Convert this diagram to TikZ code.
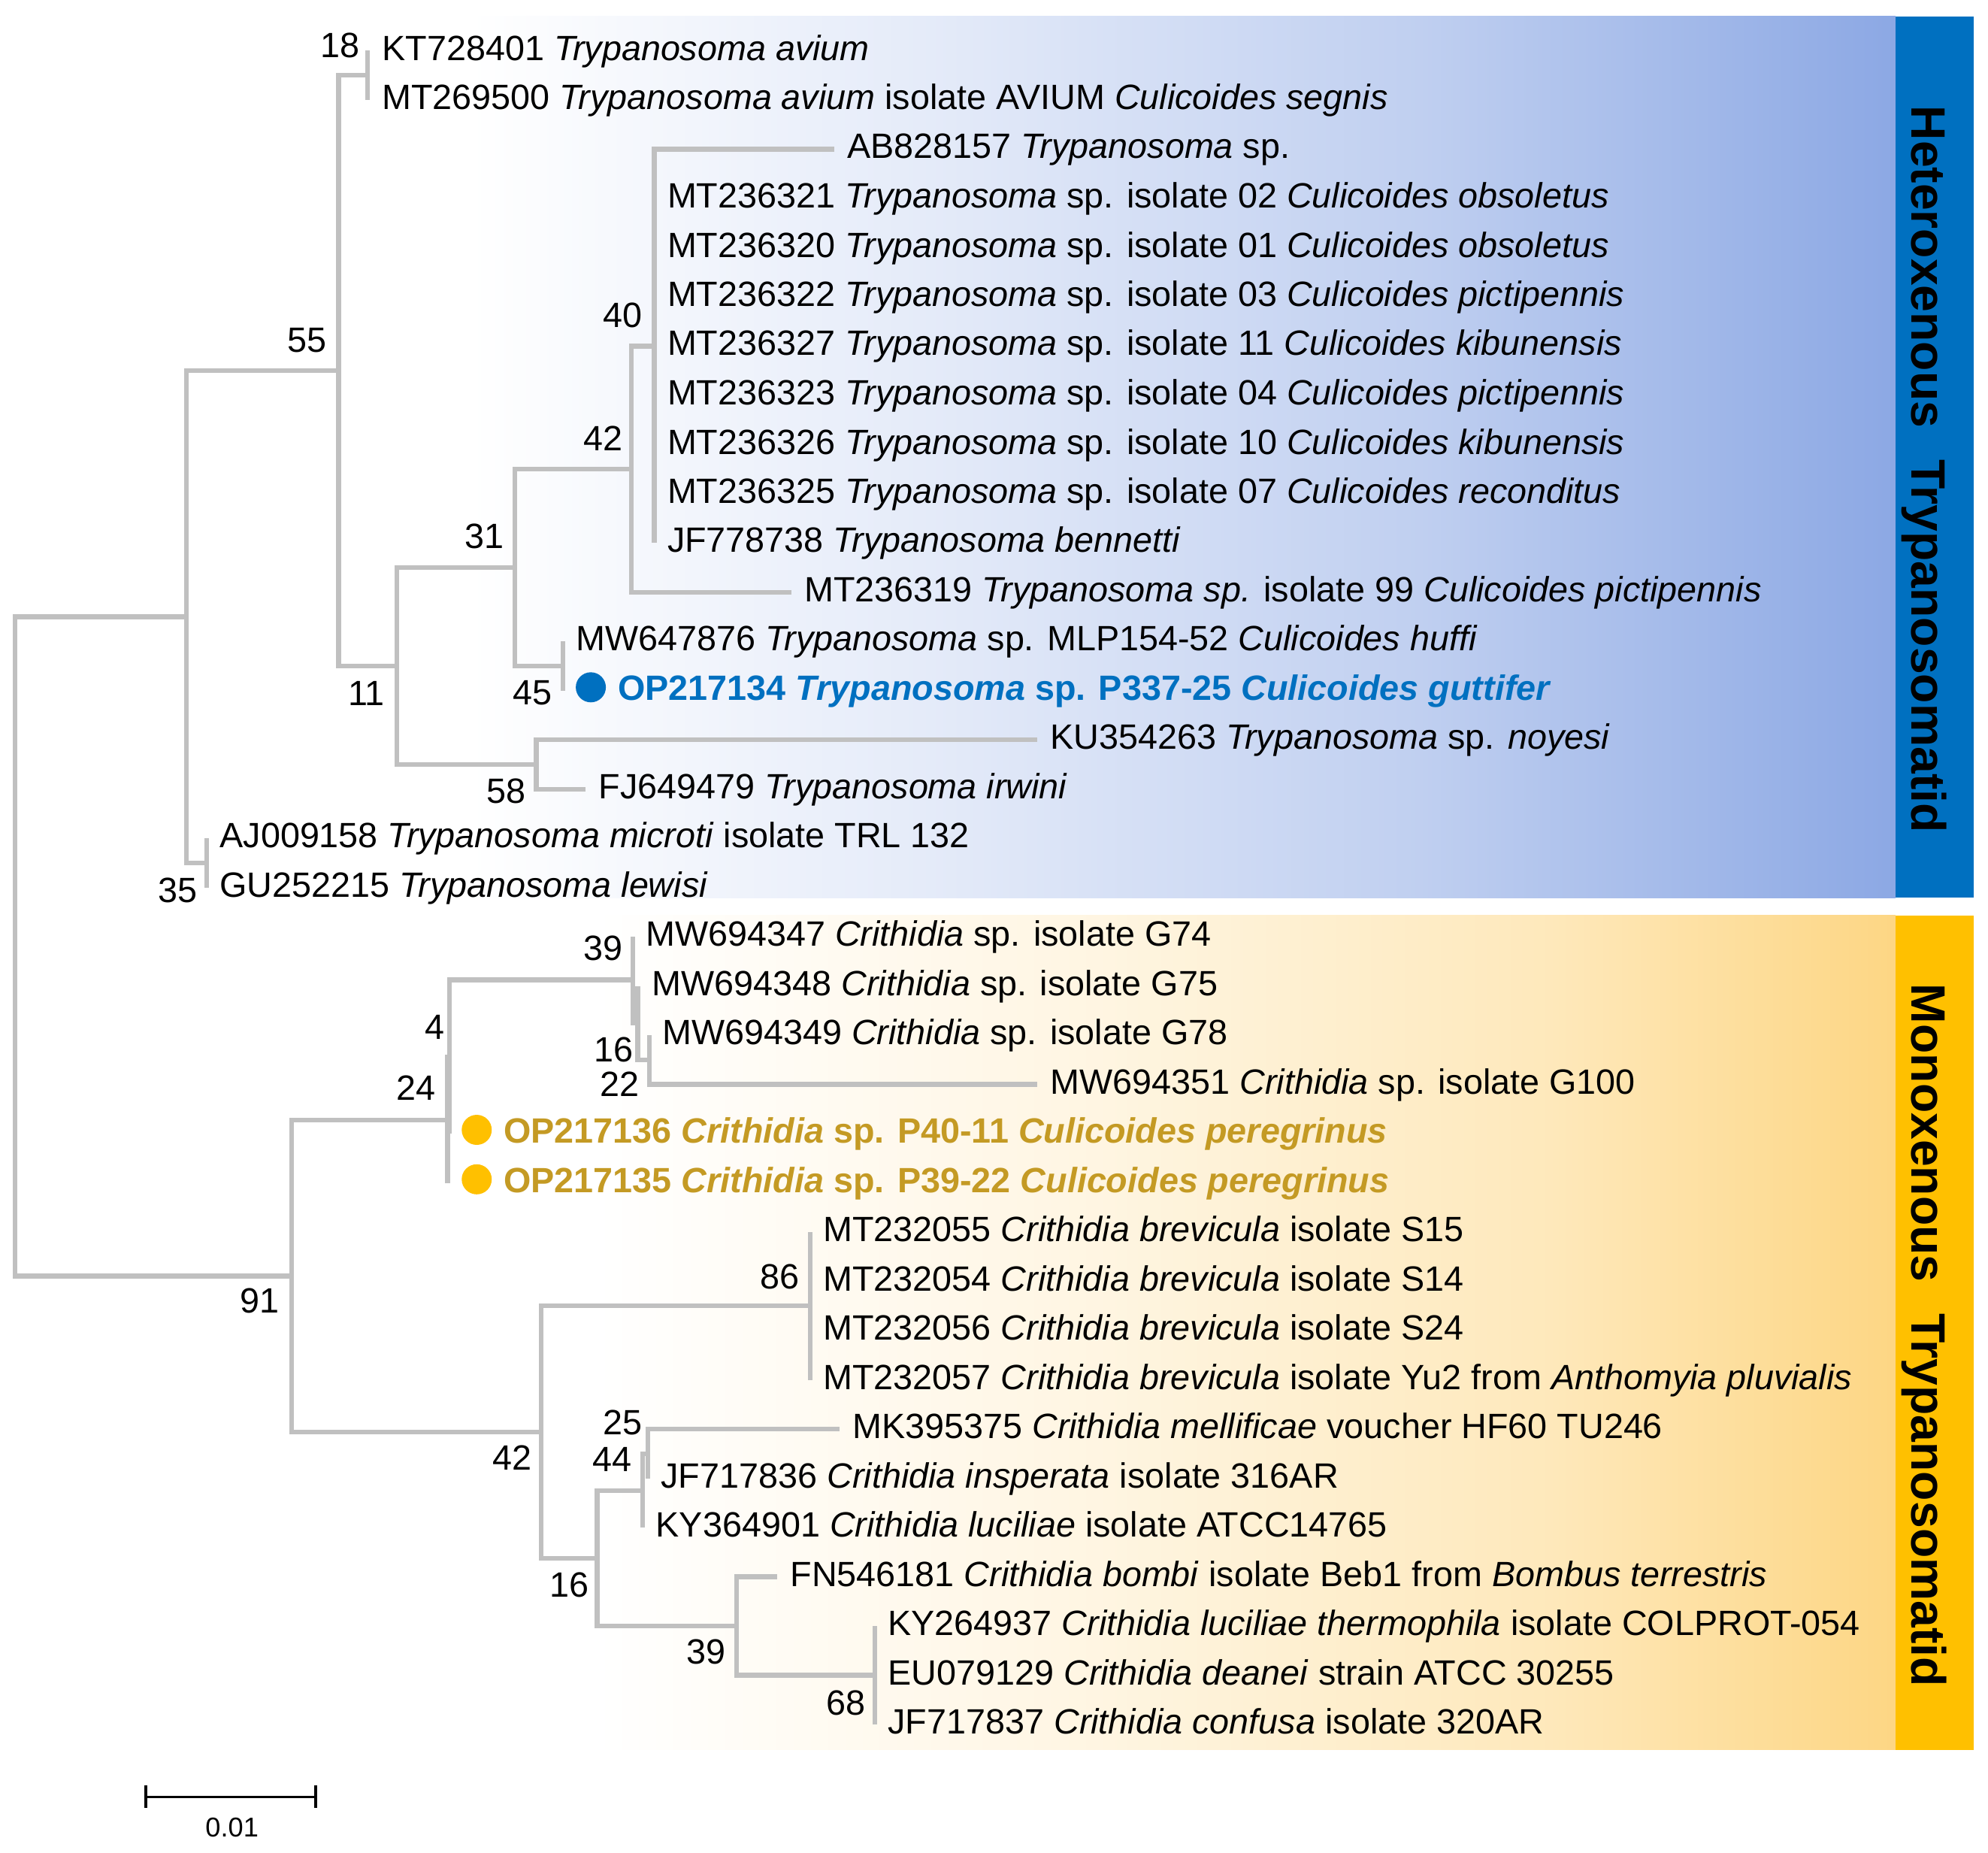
\documentclass[tikz,border=0pt]{standalone}
\usepackage{fontspec}
\setmainfont{Liberation Sans}
\definecolor{branch}{RGB}{192,192,192}
\definecolor{bandblue}{RGB}{140,168,228}
\definecolor{barblue}{RGB}{0,112,192}
\definecolor{bandgold}{RGB}{253,214,132}
\definecolor{bargold}{RGB}{255,192,0}
\definecolor{txtgold}{RGB}{196,154,36}
\pgfdeclarehorizontalshading{blueband}{100bp}{color(0bp)=(white); color(25bp)=(white); color(30bp)=(white); color(45bp)=(bandblue!24!white); color(60bp)=(bandblue!55!white); color(75bp)=(bandblue); color(100bp)=(bandblue)}
\pgfdeclarehorizontalshading{goldband}{100bp}{color(0bp)=(white); color(25bp)=(white); color(34bp)=(white); color(50bp)=(bandgold!24!white); color(64bp)=(bandgold!55!white); color(75bp)=(bandgold); color(100bp)=(bandgold)}
\begin{document}
\begin{tikzpicture}[x=0.01687cm, y=-0.01687cm,
  br/.style={draw=branch, line width=1.8pt, line join=miter},
  leaf/.style={anchor=west, inner sep=0pt, text height=0.716em, text depth=0pt, font=\fontsize{13.3}{16}\selectfont},
  hl/.style={leaf, font=\bfseries\fontsize{13.3}{16}\selectfont},
  boot/.style={anchor=center, inner sep=0pt, text height=0.716em, text depth=0pt, font=\fontsize{13.3}{16}\selectfont},
  dot/.style={circle, inner sep=0pt, minimum size=0.4cm, draw=none},
  bartext/.style={rotate=-90, anchor=base, inner sep=0pt, font=\bfseries\fontsize{18.3}{22}\selectfont}
]
\useasboundingbox (0,0) rectangle (1568,1461);
\fill[white] (0,0) rectangle (1568,1461);
% bands
\shade[shading=blueband] (245,13) rectangle (1495,708);
\shade[shading=goldband] (245,722) rectangle (1495,1380);
\fill[barblue] (1495,13) rectangle (1557,708);
\fill[bargold] (1495,722) rectangle (1557,1380);
\node[bartext] (hetero) at (1508,370) {Heteroxenous\hspace{0.65em}Trypanosomatid};
\node[bartext] (mono) at (1508,1053) {Monoxenous\hspace{0.65em}Trypanosomatid};

% internal nodes
\coordinate (root) at (12,746.35);
\coordinate (A) at (147,486.4);
\coordinate (N55) at (267,292.3);
\coordinate (N18) at (290,59.4);
\coordinate (N11) at (313,525.25);
\coordinate (N31) at (406,447.6);
\coordinate (N42) at (498,369.95);
\coordinate (N40) at (516,272.9);
\coordinate (N45) at (444,525.25);
\coordinate (N58) at (423,602.9);
\coordinate (N35) at (163,680.55);
\coordinate (N91) at (230,1006.3);
\coordinate (N24) at (353,883.15);
\coordinate (N4) at (354.5,833.4);
\coordinate (N39) at (499,772.75);
\coordinate (N22) at (503,806.7);
\coordinate (N16) at (512,835.8);
\coordinate (N42b) at (427,1129.4);
\coordinate (N86) at (639,1029.9);
\coordinate (N16b) at (471,1228.9);
\coordinate (N44) at (507,1175.5);
\coordinate (N25) at (511,1146.4);
\coordinate (N39b) at (581,1282.25);
\coordinate (N68) at (690,1321.1);

% tips
\coordinate (t1) at (290,40.0);
\coordinate (t2) at (290,78.8);
\coordinate (t3) at (658,117.6);
\coordinate (t4) at (516,156.5);
\coordinate (t5) at (516,195.3);
\coordinate (t6) at (516,234.1);
\coordinate (t7) at (516,272.9);
\coordinate (t8) at (516,311.7);
\coordinate (t9) at (516,350.6);
\coordinate (t10) at (516,389.4);
\coordinate (t11) at (516,428.2);
\coordinate (t12) at (624,467.0);
\coordinate (t13) at (444,505.8);
\coordinate (t14) at (444,544.7);
\coordinate (t15) at (818,583.5);
\coordinate (t16) at (462,622.3);
\coordinate (t17) at (163,661.1);
\coordinate (t18) at (163,700.0);
\coordinate (t19) at (499,738.8);
\coordinate (t20) at (503,777.6);
\coordinate (t21) at (512,816.4);
\coordinate (t22) at (818,855.2);
\coordinate (t23) at (354.5,894.0);
\coordinate (t24) at (353,932.9);
\coordinate (t25) at (639,971.7);
\coordinate (t26) at (639,1010.5);
\coordinate (t27) at (639,1049.3);
\coordinate (t28) at (639,1088.1);
\coordinate (t29) at (662,1127.0);
\coordinate (t30) at (511,1165.8);
\coordinate (t31) at (507,1204.6);
\coordinate (t32) at (613,1243.4);
\coordinate (t33) at (690,1282.3);
\coordinate (t34) at (690,1321.1);
\coordinate (t35) at (690,1359.9);

% branches
\draw[br] (root) |- (A);  \draw[br] (root) |- (N91);
\draw[br] (A) |- (N55);   \draw[br] (A) |- (N35);
\draw[br] (N55) |- (N18); \draw[br] (N55) |- (N11);
\draw[br] (N18) |- (t1);  \draw[br] (N18) |- (t2);
\draw[br] (N11) |- (N31); \draw[br] (N11) |- (N58);
\draw[br] (N31) |- (N42); \draw[br] (N31) |- (N45);
\draw[br] (N42) |- (N40); \draw[br] (N42) |- (t12);
\foreach \t in {t3,t4,t5,t6,t7,t8,t9,t10,t11} {\draw[br] (N40) |- (\t);}
\draw[br] (N45) |- (t13); \draw[br] (N45) |- (t14);
\draw[br] (N58) |- (t15); \draw[br] (N58) |- (t16);
\draw[br] (N35) |- (t17); \draw[br] (N35) |- (t18);
\draw[br] (N91) |- (N24); \draw[br] (N91) |- (N42b);
\draw[br] (N24) |- (N4);  \draw[br] (N24) |- (t24);
\draw[br] (N4) |- (N39);  \draw[br] (N4) |- (t23);
\draw[br] (N39) |- (t19); \draw[br] (N39) |- (N22);
\draw[br] (N22) |- (t20); \draw[br] (N22) |- (N16);
\draw[br] (N16) |- (t21); \draw[br] (N16) |- (t22);
\draw[br] (N42b) |- (N86); \draw[br] (N42b) |- (N16b);
\foreach \t in {t25,t26,t27,t28} {\draw[br] (N86) |- (\t);}
\draw[br] (N16b) |- (N44); \draw[br] (N16b) |- (N39b);
\draw[br] (N44) |- (N25); \draw[br] (N44) |- (t31);
\draw[br] (N25) |- (t29); \draw[br] (N25) |- (t30);
\draw[br] (N39b) |- (t32); \draw[br] (N39b) |- (N68);
\foreach \t in {t33,t34,t35} {\draw[br] (N68) |- (\t);}

% leaf labels
\node[leaf] (l1) at (301,40.0) {KT728401 \textit{Trypanosoma avium}};
\node[leaf] (l2) at (301,78.8) {MT269500 \textit{Trypanosoma avium} isolate AVIUM \textit{Culicoides segnis}};
\node[leaf] (l3) at (668,117.6) {AB828157 \textit{Trypanosoma} sp.};
\node[leaf] (l4) at (526,156.5) {MT236321 \textit{Trypanosoma} sp. isolate 02 \textit{Culicoides obsoletus}};
\node[leaf] (l5) at (526,195.3) {MT236320 \textit{Trypanosoma} sp. isolate 01 \textit{Culicoides obsoletus}};
\node[leaf] (l6) at (526,234.1) {MT236322 \textit{Trypanosoma} sp. isolate 03 \textit{Culicoides pictipennis}};
\node[leaf] (l7) at (526,272.9) {MT236327 \textit{Trypanosoma} sp. isolate 11 \textit{Culicoides kibunensis}};
\node[leaf] (l8) at (526,311.7) {MT236323 \textit{Trypanosoma} sp. isolate 04 \textit{Culicoides pictipennis}};
\node[leaf] (l9) at (526,350.6) {MT236326 \textit{Trypanosoma} sp. isolate 10 \textit{Culicoides kibunensis}};
\node[leaf] (l10) at (526,389.4) {MT236325 \textit{Trypanosoma} sp. isolate 07 \textit{Culicoides reconditus}};
\node[leaf] (l11) at (526,428.2) {JF778738 \textit{Trypanosoma bennetti}};
\node[leaf] (l12) at (634,467.0) {MT236319 \textit{Trypanosoma sp.} isolate 99 \textit{Culicoides pictipennis}};
\node[leaf] (l13) at (454,505.8) {MW647876 \textit{Trypanosoma} sp. MLP154-52 \textit{Culicoides huffi}};
\node[dot, fill=barblue] (d14) at (466,542) {};
\node[hl, text=barblue] (l14) at (487,544.7) {OP217134 \textit{Trypanosoma} sp. P337-25 \textit{Culicoides guttifer}};
\node[leaf] (l15) at (828,583.5) {KU354263 \textit{Trypanosoma} sp. \textit{noyesi}};
\node[leaf] (l16) at (472,622.3) {FJ649479 \textit{Trypanosoma irwini}};
\node[leaf] (l17) at (173,661.1) {AJ009158 \textit{Trypanosoma microti} isolate TRL 132};
\node[leaf] (l18) at (173,700.0) {GU252215 \textit{Trypanosoma lewisi}};
\node[leaf] (l19) at (509,738.8) {MW694347 \textit{Crithidia} sp. isolate G74};
\node[leaf] (l20) at (514,777.6) {MW694348 \textit{Crithidia} sp. isolate G75};
\node[leaf] (l21) at (522,816.4) {MW694349 \textit{Crithidia} sp. isolate G78};
\node[leaf] (l22) at (828,855.2) {MW694351 \textit{Crithidia} sp. isolate G100};
\node[dot, fill=bargold] (d23) at (376,891) {};
\node[hl, text=txtgold] (l23) at (397,894.0) {OP217136 \textit{Crithidia} sp. P40-11 \textit{Culicoides peregrinus}};
\node[dot, fill=bargold] (d24) at (376,930) {};
\node[hl, text=txtgold] (l24) at (397,932.9) {OP217135 \textit{Crithidia} sp. P39-22 \textit{Culicoides peregrinus}};
\node[leaf] (l25) at (649,971.7) {MT232055 \textit{Crithidia brevicula} isolate S15};
\node[leaf] (l26) at (649,1010.5) {MT232054 \textit{Crithidia brevicula} isolate S14};
\node[leaf] (l27) at (649,1049.3) {MT232056 \textit{Crithidia brevicula} isolate S24};
\node[leaf] (l28) at (649,1088.1) {MT232057 \textit{Crithidia brevicula} isolate Yu2 from \textit{Anthomyia pluvialis}};
\node[leaf] (l29) at (672,1127.0) {MK395375 \textit{Crithidia mellificae} voucher HF60 TU246};
\node[leaf] (l30) at (521,1165.8) {JF717836 \textit{Crithidia insperata} isolate 316AR};
\node[leaf] (l31) at (517,1204.6) {KY364901 \textit{Crithidia luciliae} isolate ATCC14765};
\node[leaf] (l32) at (623,1243.4) {FN546181 \textit{Crithidia bombi} isolate Beb1 from \textit{Bombus terrestris}};
\node[leaf] (l33) at (700,1282.3) {KY264937 \textit{Crithidia luciliae thermophila} isolate COLPROT-054};
\node[leaf] (l34) at (700,1321.1) {EU079129 \textit{Crithidia deanei} strain ATCC 30255};
\node[leaf] (l35) at (700,1359.9) {JF717837 \textit{Crithidia confusa} isolate 320AR};

% bootstrap values
\node[boot] (b18) at (268,38) {18};
\node[boot] (b55) at (242,270) {55};
\node[boot] (b40) at (491,251) {40};
\node[boot] (b42) at (476,348) {42};
\node[boot] (b31) at (382,425) {31};
\node[boot] (b11) at (289,549) {11};
\node[boot] (b45) at (420,548) {45};
\node[boot] (b58) at (399,626) {58};
\node[boot] (b35) at (140,704) {35};
\node[boot] (b39) at (476,750) {39};
\node[boot] (b4) at (343,812) {4};
\node[boot] (b16) at (484,830) {16};
\node[boot] (b24) at (328,860) {24};
\node[boot] (b22) at (489,857) {22};
\node[boot] (b91) at (205,1028) {91};
\node[boot] (b86) at (615,1009) {86};
\node[boot] (b25) at (491,1124) {25};
\node[boot] (b44) at (483,1153) {44};
\node[boot] (b42b) at (404,1152) {42};
\node[boot] (b16b) at (449,1252) {16};
\node[boot] (b39b) at (557,1305) {39};
\node[boot] (b68) at (667,1345) {68};

% scale bar
\coordinate (sbL) at (115,1417);
\coordinate (sbR) at (249,1417);
\draw[black, line width=1pt] (sbL) -- (sbR);
\draw[black, line width=1pt] ([yshift=0.15cm]sbL) -- ([yshift=-0.15cm]sbL);
\draw[black, line width=1pt] ([yshift=0.15cm]sbR) -- ([yshift=-0.15cm]sbR);
\node[anchor=center, inner sep=0pt, text height=0.716em, text depth=0pt, font=\fontsize{10.3}{12}\selectfont] (sblabel) at (183,1441) {0.01};
\end{tikzpicture}
\end{document}
